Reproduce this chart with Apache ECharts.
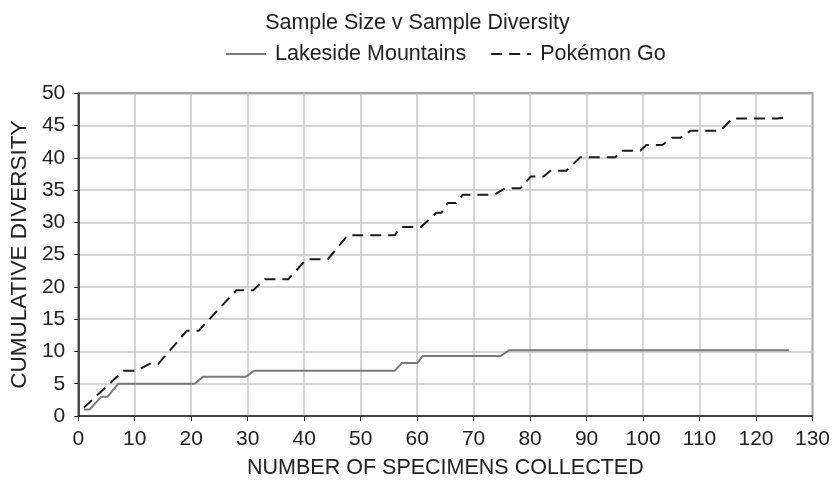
<!DOCTYPE html>
<html>
<head>
<meta charset="utf-8">
<script src="https://cdn.jsdelivr.net/npm/echarts@6/dist/echarts.min.js"></script>
<style>
html,body{margin:0;padding:0;background:#fff;}
#chart{width:835px;height:484px;}
</style>
</head>
<body>
<div id="chart"></div>
<script>
var titleText = "Sample Size v Sample Diversity";
var seriesNames = ["Lakeside Mountains", "Pokémon Go"];
var xAxisName = "NUMBER OF SPECIMENS COLLECTED";
var yAxisName = "CUMULATIVE DIVERSITY";

var lakeX = [1, 2, 4.1, 5.2, 7.1, 20.6, 22.1, 29.7, 31.1, 56, 57.3, 60, 61, 74.8, 76.3, 125.8];
var lakeY = [1, 1, 3, 3, 5, 5, 6.1, 6.1, 7, 7, 8.2, 8.2, 9.3, 9.3, 10.2, 10.2];

var pokeX = [1, 8, 10.3, 12.7, 14.2, 19.2, 21.3, 28, 31, 33, 37.2, 40.4, 44.2, 47.7, 56, 57.2, 60.7, 63.4, 64.3, 65.4, 66.9, 68.1, 73.7, 75.6, 78.3, 80.1, 82.4, 83.6, 86.4, 88.9, 95.1, 96.3, 99.5, 100.6, 103.4, 105.1, 106.6, 108.4, 113.7, 115.8, 123.8, 125.6];
var pokeY = [1.3, 7, 7, 8.1, 8.1, 13.2, 13.2, 19.5, 19.5, 21.2, 21.2, 24.3, 24.3, 28, 28, 29.3, 29.3, 31.5, 31.5, 33, 33, 34.3, 34.3, 35.3, 35.3, 37.1, 37.1, 38, 38, 40.1, 40.1, 41.1, 41.1, 42, 42, 43.1, 43.1, 44.2, 44.2, 46.1, 46.1, 46.3];

function pairs(xs, ys){ return xs.map(function(x,i){ return [x, ys[i]]; }); }

var font = '"Liberation Sans", Arial, Helvetica, sans-serif';
var chart = echarts.init(document.getElementById('chart'), null, {renderer:'canvas'});
chart.setOption({
  backgroundColor: '#ffffff',
  animation: false,
  title: {
    text: titleText, left: 'center', top: 7,
    textStyle: {fontFamily: font, fontSize: 21.5, fontWeight: 'normal', color: '#222'}
  },
  legend: {
    top: 38, left: 220, itemWidth: 40, itemHeight: 12, itemGap: 24,
    textStyle: {fontFamily: font, fontSize: 21.5, color: '#222', padding: [0, 0, 0, 4]},
    itemStyle: {opacity: 0},
    data: seriesNames
  },
  grid: {
    left: 76, right: 22.5, top: 93.3, bottom: 66.7,
    show: true, borderColor: '#444', borderWidth: 1.5, containLabel: false
  },
  xAxis: {
    type: 'value', min: 0, max: 130, interval: 10,
    name: xAxisName, nameLocation: 'middle', nameGap: 41,
    nameTextStyle: {fontFamily: font, fontSize: 21.5, color: '#222'},
    axisLine: {show: true, onZero: false, lineStyle: {color: '#222', width: 1.5}},
    axisTick: {show: true, length: 5, lineStyle: {color: '#222'}},
    axisLabel: {fontFamily: font, fontSize: 21, color: '#222', margin: 13},
    splitLine: {show: true, lineStyle: {color: '#c8c8c8', width: 1.5}}
  },
  yAxis: {
    type: 'value', min: 0, max: 50, interval: 5,
    name: yAxisName, nameLocation: 'middle', nameGap: 47, nameRotate: 90,
    nameTextStyle: {fontFamily: font, fontSize: 22.5, color: '#222'},
    axisLine: {show: true, lineStyle: {color: '#222', width: 1.5}},
    axisTick: {show: true, length: 4, lineStyle: {color: '#222'}},
    axisLabel: {fontFamily: font, fontSize: 21, color: '#222', margin: 13},
    splitLine: {show: true, lineStyle: {color: '#c8c8c8', width: 1.5}}
  },
  series: [
    {
      name: seriesNames[0], type: 'line', showSymbol: false, symbol: 'none',
      data: pairs(lakeX, lakeY),
      lineStyle: {color: '#7a7a7a', width: 2},
      itemStyle: {color: '#7a7a7a'}
    },
    {
      name: seriesNames[1], type: 'line', showSymbol: false, symbol: 'none',
      data: pairs(pokeX, pokeY),
      lineStyle: {color: '#1a1a1a', width: 2, type: [11, 7]},
      itemStyle: {color: '#1a1a1a'}
    }
  ]
});
</script>
</body>
</html>
